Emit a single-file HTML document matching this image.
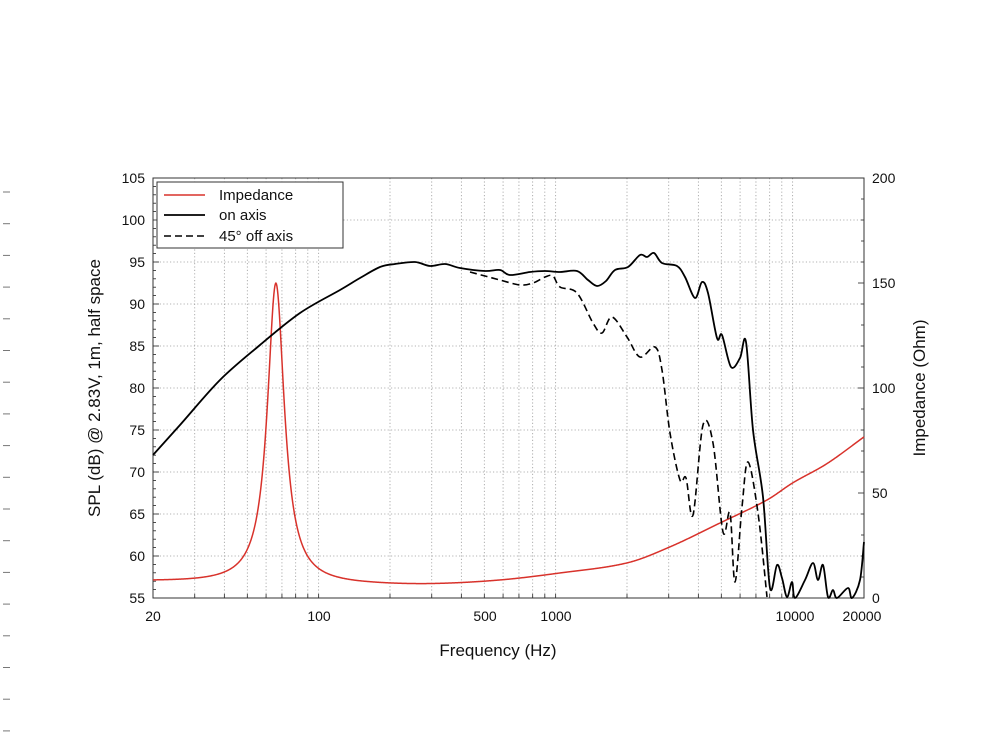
<!DOCTYPE html>
<html><head><meta charset="utf-8"><style>
html,body{margin:0;padding:0;background:#fff;width:1000px;height:750px;overflow:hidden}
svg text{font-family:"Liberation Sans",sans-serif;fill:#111}
</style></head><body>
<svg id="s" width="1000" height="750" xmlns="http://www.w3.org/2000/svg">
<g id="grid" stroke="#9a9a9a" stroke-width="0.8" stroke-dasharray="1.2,2.2" fill="none"></g>
<g id="ticks" stroke="#222" stroke-width="0.8"></g>
<rect x="153" y="178" width="711" height="420" fill="none" stroke="#333" stroke-width="1"/>
<path id="red" fill="none" stroke="#d8322b" stroke-width="1.5"/>
<path id="on" fill="none" stroke="#000" stroke-width="1.8"/>
<path id="off" fill="none" stroke="#000" stroke-width="1.6" stroke-dasharray="7,4"/>
<g font-size="14" text-anchor="end">
<text x="145" y="183">105</text><text x="145" y="225">100</text><text x="145" y="267">95</text>
<text x="145" y="309">90</text><text x="145" y="351">85</text><text x="145" y="393">80</text>
<text x="145" y="435">75</text><text x="145" y="477">70</text><text x="145" y="519">65</text>
<text x="145" y="561">60</text><text x="145" y="603">55</text>
</g>
<g font-size="14" text-anchor="start">
<text x="872" y="183">200</text><text x="872" y="288">150</text><text x="872" y="393">100</text>
<text x="872" y="498">50</text><text x="872" y="603">0</text>
</g>
<g font-size="14" text-anchor="middle">
<text x="153" y="621">20</text><text x="319" y="621">100</text><text x="485" y="621">500</text>
<text x="556" y="621">1000</text><text x="795" y="621">10000</text><text x="862" y="621">20000</text>
</g>
<text x="498" y="656" font-size="17" text-anchor="middle">Frequency (Hz)</text>
<text transform="translate(100,388) rotate(-90)" font-size="17" text-anchor="middle">SPL (dB) @ 2.83V, 1m, half space</text>
<text transform="translate(925,388) rotate(-90)" font-size="17" text-anchor="middle">Impedance (Ohm)</text>
<rect x="157" y="182" width="186" height="66" fill="#fff" stroke="#333" stroke-width="1"/>
<line x1="164" y1="195" x2="205" y2="195" stroke="#d8322b" stroke-width="1.5"/>
<line x1="164" y1="215" x2="205" y2="215" stroke="#000" stroke-width="1.8"/>
<line x1="164" y1="236" x2="205" y2="236" stroke="#000" stroke-width="1.6" stroke-dasharray="7,4"/>
<g font-size="15"><text x="219" y="200">Impedance</text><text x="219" y="220">on axis</text><text x="219" y="241">45° off axis</text></g>
<g id="edge" stroke="#777" stroke-width="1"></g>
</svg>
<script>
const NS="http://www.w3.org/2000/svg";
const X=f=>153+237*Math.log10(f/20);
const YL=d=>178+(105-d)*8.4;
const YR=z=>598-z*2.1;
function el(p,t,a){const e=document.createElementNS(NS,t);for(const k in a)e.setAttribute(k,a[k]);p.appendChild(e);}
const g=document.getElementById('grid'),tk=document.getElementById('ticks');
for(let d=60;d<=100;d+=5)el(g,'line',{x1:153,x2:864,y1:YL(d),y2:YL(d)});
const fs=[];for(const dec of [10,100,1000,10000])for(let m=1;m<10;m++){const f=m*dec;if(f>20&&f<20000)fs.push(f);}
fs.forEach(f=>{el(g,'line',{x1:X(f),x2:X(f),y1:178,y2:598});});
for(let d=55;d<=105;d+=1){const L=d%5==0?6:3;el(tk,'line',{x1:153,x2:153+L,y1:YL(d),y2:YL(d)});}
for(let z=0;z<=200;z+=10){const L=z%50==0?6:3;el(tk,'line',{x1:864,x2:864-L,y1:YR(z),y2:YR(z)});}
fs.concat([20,20000]).forEach(f=>{el(tk,'line',{x1:X(f),x2:X(f),y1:598,y2:594});});
const ed=document.getElementById('edge');
for(let y=192;y<740;y+=31.7)el(ed,'line',{x1:3,x2:10,y1:y,y2:y});
function cr(p){let d="M"+p[0][0]+","+p[0][1];for(let i=0;i<p.length-1;i++){const p0=p[Math.max(0,i-1)],p1=p[i],p2=p[i+1],p3=p[Math.min(p.length-1,i+2)];
d+=" C"+(p1[0]+(p2[0]-p0[0])/6).toFixed(1)+","+(p1[1]+(p2[1]-p0[1])/6).toFixed(1)+" "+(p2[0]-(p3[0]-p1[0])/6).toFixed(1)+","+(p2[1]-(p3[1]-p1[1])/6).toFixed(1)+" "+p2[0]+","+p2[1];}return d;}
const on=[[153,455],[180,425],[220,380],[260,345],[300,313],[340,290],[360,278],[380,267],[395,264],[415,262],[430,266],[445,264],[460,268],[485,271],[500,270],[510,275],[530,272],[545,271],[560,272],[577,271],[588,280],[597,286],[606,281],[615,270],[628,267],[640,255],[647,257],[654,253],[662,263],[677,266],[685,277],[695,298],[702,282],[708,293],[717,338],[722,335],[731,367],[740,358],[746,342],[753,430],[763,497],[770,588],[777,565],[782,578],[787,597],[792,582],[795,598],[805,580],[813,563],[818,580],[823,565],[828,597],[833,590],[837,598],[848,588],[852,598],[860,580],[864,542]];
const off=[[470,272],[485,276],[500,280],[520,285],[533,283],[545,277],[553,276],[560,287],[577,293],[593,323],[602,333],[612,317],[627,337],[640,357],[655,347],[662,370],[670,433],[680,480],[686,478],[693,515],[703,425],[713,443],[723,532],[730,513],[735,582],[742,507],[748,462],[758,513],[767,597]];
document.getElementById('on').setAttribute('d',cr(on));
document.getElementById('off').setAttribute('d',cr(off));
const base=[[20,8],[60,7],[150,6.5],[300,6.6],[580,8.5],[1043,11.9],[2000,16.7],[3030,24.3],[4935,35.7],[7800,46.7],[10000,54.8],[13960,64],[20000,76.7]].map(p=>[Math.log10(p[0]),p[1]]);
function B(f){const l=Math.log10(f);const n=base.length;
for(let i=0;i<n-1;i++){if(l<=base[i+1][0]||i==n-2){const p0=base[Math.max(0,i-1)],p1=base[i],p2=base[i+1],p3=base[Math.min(n-1,i+2)];
const h=p2[0]-p1[0];const t=(l-p1[0])/h;
const m1=(p2[1]-p0[1])/(p2[0]-p0[0])*h, m2=(p3[1]-p1[1])/(p3[0]-p1[0])*h;
const t2=t*t,t3=t2*t;
return (2*t3-3*t2+1)*p1[1]+(t3-2*t2+t)*m1+(-2*t3+3*t2)*p2[1]+(t3-t2)*m2;}}}
let d="";for(let i=0;i<=1400;i++){const f=20*Math.pow(1000,i/1400);const x=f/66;const z=B(f)+143/(1+25*(x-1/x)**2);d+=(i?"L":"M")+X(f).toFixed(2)+","+YR(z).toFixed(2);}
document.getElementById('red').setAttribute('d',d);
</script>
</body></html>
